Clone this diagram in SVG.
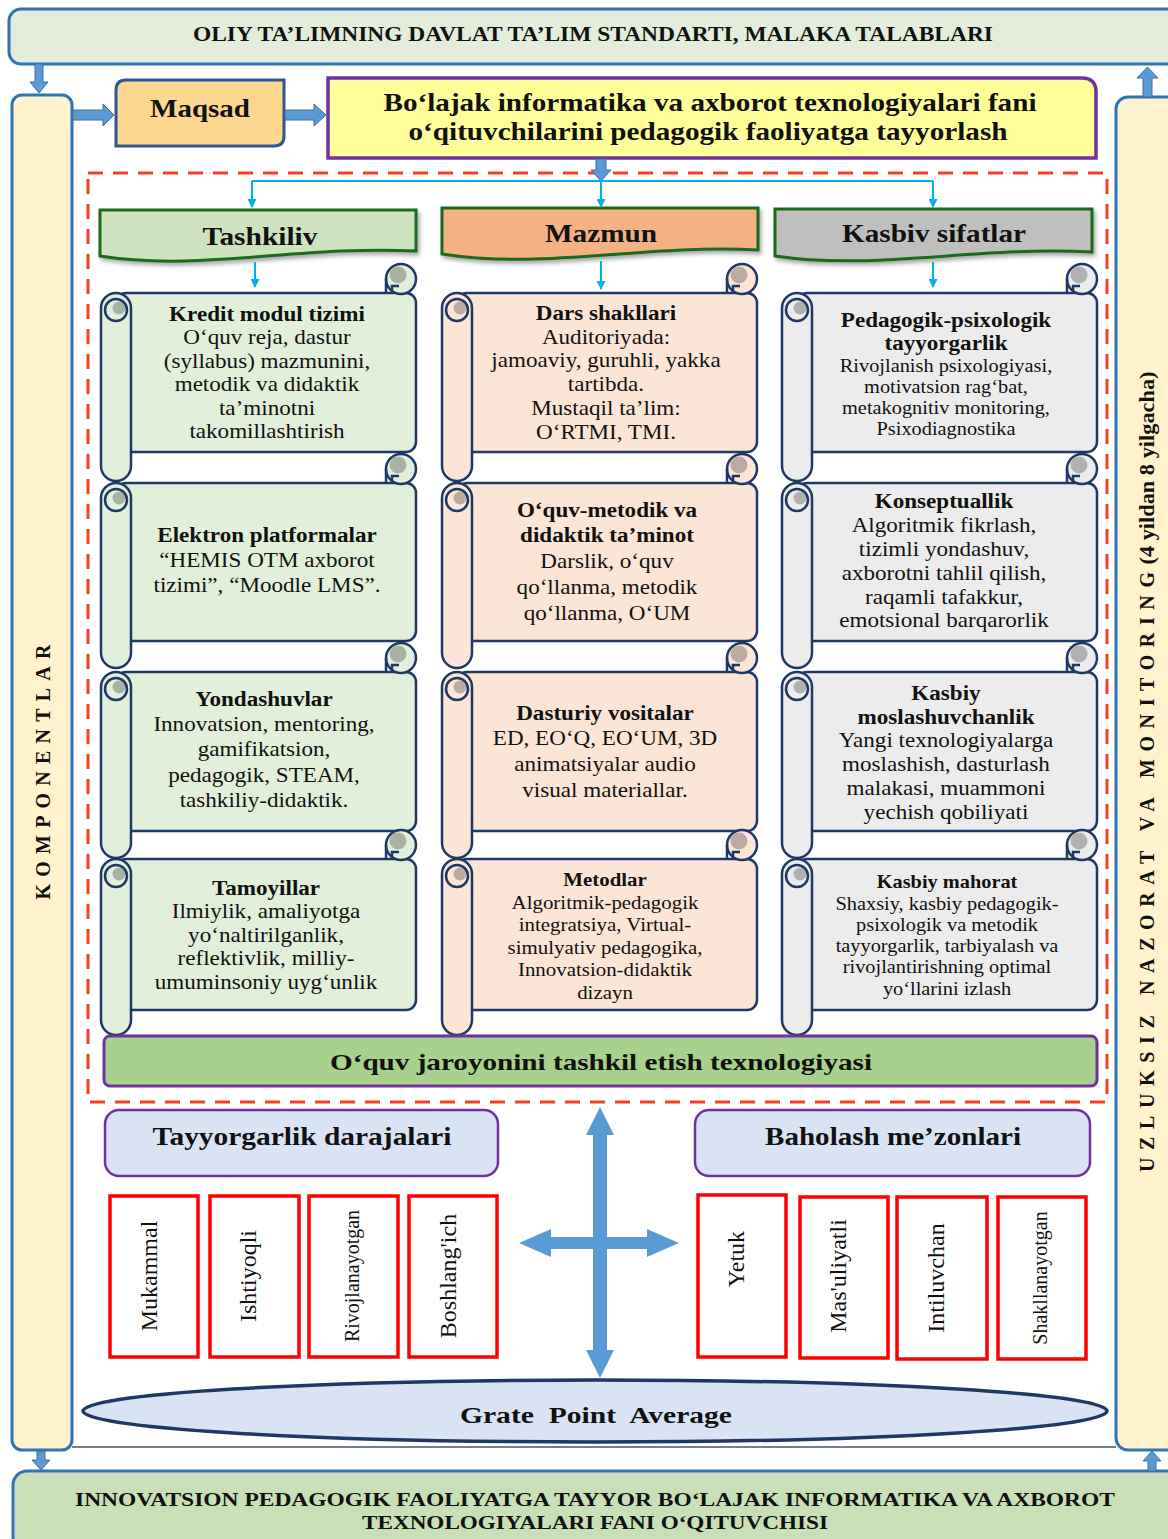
<svg xmlns="http://www.w3.org/2000/svg" xmlns:xlink="http://www.w3.org/1999/xlink" width="1168" height="1539" viewBox="0 0 1168 1539">
<style>
.t{font-family:"Liberation Serif","Times New Roman",serif;fill:#111;text-anchor:middle;stroke:none}
.b{font-weight:bold}
.f21{font-size:21px}
.f19{font-size:19px}
.f18{font-size:18.5px}
.sc{stroke:#1f3864;stroke-width:2.5}
.c1{fill:#e2efda}
.c2{fill:#fbe5d6}
.c3{fill:#ececec}
.blk{fill:#5b9bd5;stroke:#41719c;stroke-width:1}
.lb{fill:none;stroke:#00b0f0;stroke-width:2}
.red{fill:#fff;stroke:#ff0000;stroke-width:3.5}
.ban{stroke:#1b6b1b;stroke-width:3;filter:url(#sh)}
.bar{fill:#fff2cc;stroke:#2e75b6;stroke-width:3}
</style>
<defs>
<filter id="sh" x="-5%" y="-20%" width="112%" height="150%">
<feDropShadow dx="2" dy="3" stdDeviation="2" flood-color="#000" flood-opacity="0.35"/>
</filter>
<marker id="ab" viewBox="0 0 10 10" refX="9" refY="5" markerWidth="10" markerHeight="9" markerUnits="userSpaceOnUse" orient="auto">
<path d="M0 0 L10 5 L0 10 Z" fill="#00b0f0"/>
</marker>
<g id="curlR">
<circle r="15"/>
<circle cx="-3" cy="-4" r="8.5" fill="#000" fill-opacity="0.25" stroke="none"/>
<path d="M-15 0 V14 M-9 14 V7 H-2" fill="none"/>
</g>
<g id="curlL">
<circle r="11"/>
<circle cx="3" cy="-2" r="6.5" fill="#000" fill-opacity="0.25" stroke="none"/>
</g>
</defs>
<rect width="1168" height="1539" fill="#fff"/>

<g id="standard">
<rect x="9" y="9" width="1175" height="55" rx="12" fill="#e4ecdb" stroke="#2e75b6" stroke-width="3"/>
<text class="t b" x="593" y="41" font-size="20" textLength="800" lengthAdjust="spacingAndGlyphs">OLIY TA’LIMNING DAVLAT TA’LIM STANDARTI, MALAKA TALABLARI</text>
</g>

<g id="komponentlar">
<rect class="bar" x="12" y="95" width="60" height="1355" rx="10"/>
<text class="t b" font-size="20" transform="translate(50 772) rotate(-90)" textLength="255">KOMPONENTLAR</text>
</g>

<g id="monitoring">
<rect class="bar" x="1116" y="97" width="70" height="1353" rx="12"/>
<text class="t b" font-size="20" transform="translate(1154 872) rotate(-90)" textLength="600">UZLUKSIZ NAZORAT VA MONITORING</text>
<text class="t b" font-size="21" transform="translate(1154 468) rotate(-90)" textLength="193" lengthAdjust="spacingAndGlyphs">(4 yildan 8 yilgacha)</text>
</g>

<g id="frame-line">
<line x1="72" y1="1447" x2="1116" y2="1447" stroke="#44546a" stroke-width="1.5"/>
</g>

<g id="result">
<rect x="13" y="1471" width="1175" height="80" rx="14" fill="#c9dfb8" stroke="#2e75b6" stroke-width="3"/>
<text class="t b" x="595" y="1506" font-size="18" textLength="1040" lengthAdjust="spacingAndGlyphs">INNOVATSION PEDAGOGIK FAOLIYATGA TAYYOR BO‘LAJAK INFORMATIKA VA AXBOROT</text>
<text class="t b" x="595" y="1529" font-size="18" textLength="466" lengthAdjust="spacingAndGlyphs">TEXNOLOGIYALARI FANI O‘QITUVCHISI</text>
</g>

<g id="maqsad">
<path d="M126 80 H284 V136 Q284 146 274 146 H116 V90 Q116 80 126 80 Z" fill="#fcd88f" stroke="#2f5597" stroke-width="3"/>
<text class="t b" x="200" y="117" font-size="26" textLength="100" lengthAdjust="spacingAndGlyphs">Maqsad</text>
</g>

<g id="goal">
<path d="M328 78 H1082 Q1096 78 1096 92 V158 H328 Z" fill="#ffff99" stroke="#7030a0" stroke-width="3.5"/>
<text class="t b" x="710" y="111" font-size="25" textLength="653" lengthAdjust="spacingAndGlyphs">Bo‘lajak informatika va axborot texnologiyalari fani</text>
<text class="t b" x="708" y="140" font-size="25" textLength="599" lengthAdjust="spacingAndGlyphs">o‘qituvchilarini pedagogik faoliyatga tayyorlash</text>
</g>

<g id="components-area">
<rect x="88" y="173" width="1019" height="929" fill="none" stroke="#f4401e" stroke-width="3" stroke-dasharray="15 10"/>
</g>

<g id="banner-tashkiliv">
<path class="ban" d="M100 210 H416 V251 C300 245 200 272 100 256 Z" fill="#cfe2c0"/>
<text class="t b" x="260" y="245" font-size="26" textLength="115" lengthAdjust="spacingAndGlyphs">Tashkiliv</text>
</g>
<g id="banner-mazmun">
<path class="ban" d="M442 208 H758 V250 C642 244 542 270 442 254 Z" fill="#f4b183"/>
<text class="t b" x="601" y="242" font-size="26" textLength="112" lengthAdjust="spacingAndGlyphs">Mazmun</text>
</g>
<g id="banner-kasbiv">
<path class="ban" d="M775 209 H1092 V252 C975 246 875 271 775 256 Z" fill="#bfbfbf"/>
<text class="t b" x="934" y="242" font-size="26" textLength="184" lengthAdjust="spacingAndGlyphs">Kasbiv sifatlar</text>
</g>

<!-- Column 1 scrolls -->
<g id="scroll-kredit" class="c1">
<rect class="sc" x="116" y="293" width="300" height="159" rx="10"/>
<rect class="sc" x="101" y="293" width="30" height="188" rx="15"/>
<use href="#curlL" class="sc" x="116" y="310"/>
<use href="#curlR" class="sc" x="401" y="279"/>
<g transform="translate(267 0) scale(1.1 1)">
<text class="t b f21" x="0" y="321">Kredit modul tizimi</text>
<text class="t f21" x="0" y="344.5">O‘quv reja, dastur</text>
<text class="t f21" x="0" y="368">(syllabus) mazmunini,</text>
<text class="t f21" x="0" y="391">metodik va didaktik</text>
<text class="t f21" x="0" y="415">ta’minotni</text>
<text class="t f21" x="0" y="438">takomillashtirish</text>
</g>
</g>
<g id="scroll-elektron" class="c1">
<rect class="sc" x="116" y="483" width="300" height="158" rx="10"/>
<rect class="sc" x="101" y="483" width="30" height="185" rx="15"/>
<use href="#curlL" class="sc" x="116" y="500"/>
<use href="#curlR" class="sc" x="401" y="469"/>
<g transform="translate(267 0) scale(1.1 1)">
<text class="t b f21" x="0" y="542">Elektron platformalar</text>
<text class="t f21" x="0" y="567">“HEMIS OTM axborot</text>
<text class="t f21" x="0" y="592">tizimi”, “Moodle LMS”.</text>
</g>
</g>
<g id="scroll-yondashuvlar" class="c1">
<rect class="sc" x="116" y="672" width="300" height="159" rx="10"/>
<rect class="sc" x="101" y="672" width="30" height="186" rx="15"/>
<use href="#curlL" class="sc" x="116" y="689"/>
<use href="#curlR" class="sc" x="401" y="658"/>
<g transform="translate(264 0) scale(1.1 1)">
<text class="t b f21" x="0" y="706">Yondashuvlar</text>
<text class="t f21" x="0" y="731">Innovatsion, mentoring,</text>
<text class="t f21" x="0" y="756">gamifikatsion,</text>
<text class="t f21" x="0" y="782">pedagogik, STEAM,</text>
<text class="t f21" x="0" y="807">tashkiliy-didaktik.</text>
</g>
</g>
<g id="scroll-tamoyillar" class="c1">
<rect class="sc" x="116" y="859" width="300" height="151" rx="10"/>
<rect class="sc" x="101" y="859" width="30" height="176" rx="15"/>
<use href="#curlL" class="sc" x="116" y="876"/>
<use href="#curlR" class="sc" x="401" y="845"/>
<g transform="translate(266 0) scale(1.1 1)">
<text class="t b f21" x="0" y="895">Tamoyillar</text>
<text class="t f21" x="0" y="918.5">Ilmiylik, amaliyotga</text>
<text class="t f21" x="0" y="942">yo‘naltirilganlik,</text>
<text class="t f21" x="0" y="965.5">reflektivlik, milliy-</text>
<text class="t f21" x="0" y="989">umuminsoniy uyg‘unlik</text>
</g>
</g>

<!-- Column 2 scrolls -->
<g id="scroll-dars" class="c2">
<rect class="sc" x="457" y="293" width="300" height="159" rx="10"/>
<rect class="sc" x="442" y="293" width="30" height="188" rx="15"/>
<use href="#curlL" class="sc" x="457" y="310"/>
<use href="#curlR" class="sc" x="742" y="279"/>
<g transform="translate(606 0) scale(1.1 1)">
<text class="t b f21" x="0" y="320">Dars shakllari</text>
<text class="t f21" x="0" y="344">Auditoriyada:</text>
<text class="t f21" x="0" y="367">jamoaviy, guruhli, yakka</text>
<text class="t f21" x="0" y="391">tartibda.</text>
<text class="t f21" x="0" y="415">Mustaqil ta’lim:</text>
<text class="t f21" x="0" y="439">O‘RTMI, TMI.</text>
</g>
</g>
<g id="scroll-metodik" class="c2">
<rect class="sc" x="457" y="483" width="300" height="158" rx="10"/>
<rect class="sc" x="442" y="483" width="30" height="185" rx="15"/>
<use href="#curlL" class="sc" x="457" y="500"/>
<use href="#curlR" class="sc" x="742" y="469"/>
<g transform="translate(607 0) scale(1.1 1)">
<text class="t b f21" x="0" y="517">O‘quv-metodik va</text>
<text class="t b f21" x="0" y="542">didaktik ta’minot</text>
<text class="t f21" x="0" y="568">Darslik, o‘quv</text>
<text class="t f21" x="0" y="594">qo‘llanma, metodik</text>
<text class="t f21" x="0" y="620">qo‘llanma, O‘UM</text>
</g>
</g>
<g id="scroll-dasturiy" class="c2">
<rect class="sc" x="457" y="672" width="300" height="159" rx="10"/>
<rect class="sc" x="442" y="672" width="30" height="186" rx="15"/>
<use href="#curlL" class="sc" x="457" y="689"/>
<use href="#curlR" class="sc" x="742" y="658"/>
<g transform="translate(605 0) scale(1.1 1)">
<text class="t b f21" x="0" y="720">Dasturiy vositalar</text>
<text class="t f21" x="0" y="745">ED, EO‘Q, EO‘UM, 3D</text>
<text class="t f21" x="0" y="771">animatsiyalar audio</text>
<text class="t f21" x="0" y="797">visual materiallar.</text>
</g>
</g>
<g id="scroll-metodlar" class="c2">
<rect class="sc" x="457" y="859" width="300" height="151" rx="10"/>
<rect class="sc" x="442" y="859" width="30" height="176" rx="15"/>
<use href="#curlL" class="sc" x="457" y="876"/>
<use href="#curlR" class="sc" x="742" y="845"/>
<g transform="translate(605 0) scale(1.1 1)">
<text class="t b f19" x="0" y="886">Metodlar</text>
<text class="t f19" x="0" y="909">Algoritmik-pedagogik</text>
<text class="t f19" x="0" y="931">integratsiya, Virtual-</text>
<text class="t f19" x="0" y="954">simulyativ pedagogika,</text>
<text class="t f19" x="0" y="976">Innovatsion-didaktik</text>
<text class="t f19" x="0" y="999">dizayn</text>
</g>
</g>

<!-- Column 3 scrolls -->
<g id="scroll-pedagogik" class="c3">
<rect class="sc" x="797" y="293" width="300" height="159" rx="10"/>
<rect class="sc" x="782" y="293" width="30" height="188" rx="15"/>
<use href="#curlL" class="sc" x="797" y="310"/>
<use href="#curlR" class="sc" x="1082" y="279"/>
<g transform="translate(946 0) scale(1.1 1)">
<text class="t b f21" x="0" y="327">Pedagogik-psixologik</text>
<text class="t b f21" x="0" y="350">tayyorgarlik</text>
<text class="t f18" x="0" y="372">Rivojlanish psixologiyasi,</text>
<text class="t f18" x="0" y="393">motivatsion rag‘bat,</text>
<text class="t f18" x="0" y="414">metakognitiv monitoring,</text>
<text class="t f18" x="0" y="435">Psixodiagnostika</text>
</g>
</g>
<g id="scroll-konseptuallik" class="c3">
<rect class="sc" x="797" y="483" width="300" height="158" rx="10"/>
<rect class="sc" x="782" y="483" width="30" height="185" rx="15"/>
<use href="#curlL" class="sc" x="797" y="500"/>
<use href="#curlR" class="sc" x="1082" y="469"/>
<g transform="translate(944 0) scale(1.1 1)">
<text class="t b f21" x="0" y="508">Konseptuallik</text>
<text class="t f21" x="0" y="532">Algoritmik fikrlash,</text>
<text class="t f21" x="0" y="556">tizimli yondashuv,</text>
<text class="t f21" x="0" y="580">axborotni tahlil qilish,</text>
<text class="t f21" x="0" y="604">raqamli tafakkur,</text>
<text class="t f21" x="0" y="627">emotsional barqarorlik</text>
</g>
</g>
<g id="scroll-moslashuvchanlik" class="c3">
<rect class="sc" x="797" y="672" width="300" height="159" rx="10"/>
<rect class="sc" x="782" y="672" width="30" height="186" rx="15"/>
<use href="#curlL" class="sc" x="797" y="689"/>
<use href="#curlR" class="sc" x="1082" y="658"/>
<g transform="translate(946 0) scale(1.1 1)">
<text class="t b f21" x="0" y="700">Kasbiy</text>
<text class="t b f21" x="0" y="724">moslashuvchanlik</text>
<text class="t f21" x="0" y="747">Yangi texnologiyalarga</text>
<text class="t f21" x="0" y="771">moslashish, dasturlash</text>
<text class="t f21" x="0" y="795">malakasi, muammoni</text>
<text class="t f21" x="0" y="819">yechish qobiliyati</text>
</g>
</g>
<g id="scroll-mahorat" class="c3">
<rect class="sc" x="797" y="859" width="300" height="151" rx="10"/>
<rect class="sc" x="782" y="859" width="30" height="176" rx="15"/>
<use href="#curlL" class="sc" x="797" y="876"/>
<use href="#curlR" class="sc" x="1082" y="845"/>
<g transform="translate(947 0) scale(1.1 1)">
<text class="t b f18" x="0" y="888">Kasbiy mahorat</text>
<text class="t f18" x="0" y="910">Shaxsiy, kasbiy pedagogik-</text>
<text class="t f18" x="0" y="931">psixologik va metodik</text>
<text class="t f18" x="0" y="952">tayyorgarlik, tarbiyalash va</text>
<text class="t f18" x="0" y="973">rivojlantirishning optimal</text>
<text class="t f18" x="0" y="995">yo‘llarini izlash</text>
</g>
</g>

<g id="technology">
<rect x="104" y="1036" width="993" height="50" rx="6" fill="#a9d18e" stroke="#7030a0" stroke-width="3"/>
<text class="t b" x="601" y="1070" font-size="24" textLength="542" lengthAdjust="spacingAndGlyphs">O‘quv jaroyonini tashkil etish texnologiyasi</text>
</g>

<g id="tayyorgarlik">
<rect x="105" y="1110" width="393" height="66" rx="14" fill="#dae3f3" stroke="#7030a0" stroke-width="2.5"/>
<text class="t b" x="302" y="1145" font-size="25" textLength="299" lengthAdjust="spacingAndGlyphs">Tayyorgarlik darajalari</text>
</g>
<g id="baholash">
<rect x="695" y="1110" width="395" height="66" rx="14" fill="#dae3f3" stroke="#7030a0" stroke-width="2.5"/>
<text class="t b" x="893" y="1145" font-size="25" textLength="256" lengthAdjust="spacingAndGlyphs">Baholash me’zonlari</text>
</g>

<g id="level-mukammal">
<rect class="red" x="110" y="1196" width="88" height="161"/>
<text class="t" font-size="24" transform="translate(157 1276) rotate(-90)">Mukammal</text>
</g>
<g id="level-ishtiyoqli">
<rect class="red" x="210" y="1196" width="89" height="161"/>
<text class="t" font-size="24" transform="translate(256 1276) rotate(-90)">Ishtiyoqli</text>
</g>
<g id="level-rivojlanayotgan">
<rect class="red" x="309" y="1196" width="89" height="161"/>
<text class="t" font-size="20" transform="translate(359 1276) rotate(-90)">Rivojlanayotgan</text>
</g>
<g id="level-boshlangich">
<rect class="red" x="409" y="1196" width="88" height="161"/>
<text class="t" font-size="24" transform="translate(456 1276) rotate(-90)">Boshlang'ich</text>
</g>
<g id="criterion-yetuk">
<rect class="red" x="698" y="1195" width="88" height="162"/>
<text class="t" font-size="24" transform="translate(744 1259) rotate(-90)">Yetuk</text>
</g>
<g id="criterion-masuliyatli">
<rect class="red" x="800" y="1197" width="88" height="161"/>
<text class="t" font-size="24" transform="translate(846 1276) rotate(-90)">Mas'uliyatli</text>
</g>
<g id="criterion-intiluvchan">
<rect class="red" x="897" y="1197" width="90" height="162"/>
<text class="t" font-size="24" transform="translate(944 1278) rotate(-90)">Intiluvchan</text>
</g>
<g id="criterion-shakllanayotgan">
<rect class="red" x="998" y="1197" width="88" height="162"/>
<text class="t" font-size="20" transform="translate(1047 1278) rotate(-90)">Shakllanayotgan</text>
</g>

<g id="gpa">
<ellipse cx="595" cy="1411" rx="512" ry="31" fill="#dae3f3" stroke="#1f3864" stroke-width="3.5"/>
<text class="t b" x="596" y="1423" font-size="24" textLength="272" lengthAdjust="spacingAndGlyphs" xml:space="preserve">Grate  Point  Average</text>
</g>

<g id="connectors">
<polygon class="blk" points="35,64 43,64 43,82 48,82 39,93 30,82 35,82"/>
<polygon class="blk" points="1143,97 1152,97 1152,78 1158,78 1147.5,67 1137,78 1143,78"/>
<polygon class="blk" points="73,110 103,110 103,104 114,115 103,126 103,120 73,120"/>
<polygon class="blk" points="285,110 314,110 314,104 326,115 314,126 314,120 285,120"/>
<polygon class="blk" points="596,159 606,159 606,170 611,170 601,181 591,170 596,170"/>
<polygon class="blk" points="37,1451 45,1451 45,1460 50,1460 41,1470 32,1460 37,1460"/>
<polygon class="blk" points="1148,1471 1156,1471 1156,1461 1161,1461 1152,1451 1143,1461 1148,1461"/>
<path class="lb" d="M252 181 H933"/>
<path class="lb" d="M252 181 V207" marker-end="url(#ab)"/>
<path class="lb" d="M601 181 V207" marker-end="url(#ab)"/>
<path class="lb" d="M933 181 V207" marker-end="url(#ab)"/>
<path class="lb" d="M255 262 V287" marker-end="url(#ab)"/>
<path class="lb" d="M601 261 V289" marker-end="url(#ab)"/>
<path class="lb" d="M933 262 V287" marker-end="url(#ab)"/>
<polygon fill="#5b9bd5" points="519,1243 551,1229 551,1237 647,1237 647,1229 679,1243 647,1257 647,1249 551,1249 551,1257"/>
<polygon fill="#5b9bd5" points="600,1107 614,1135 607,1135 607,1350 614,1350 600,1378 586,1350 593,1350 593,1135 586,1135"/>
</g>
</svg>
